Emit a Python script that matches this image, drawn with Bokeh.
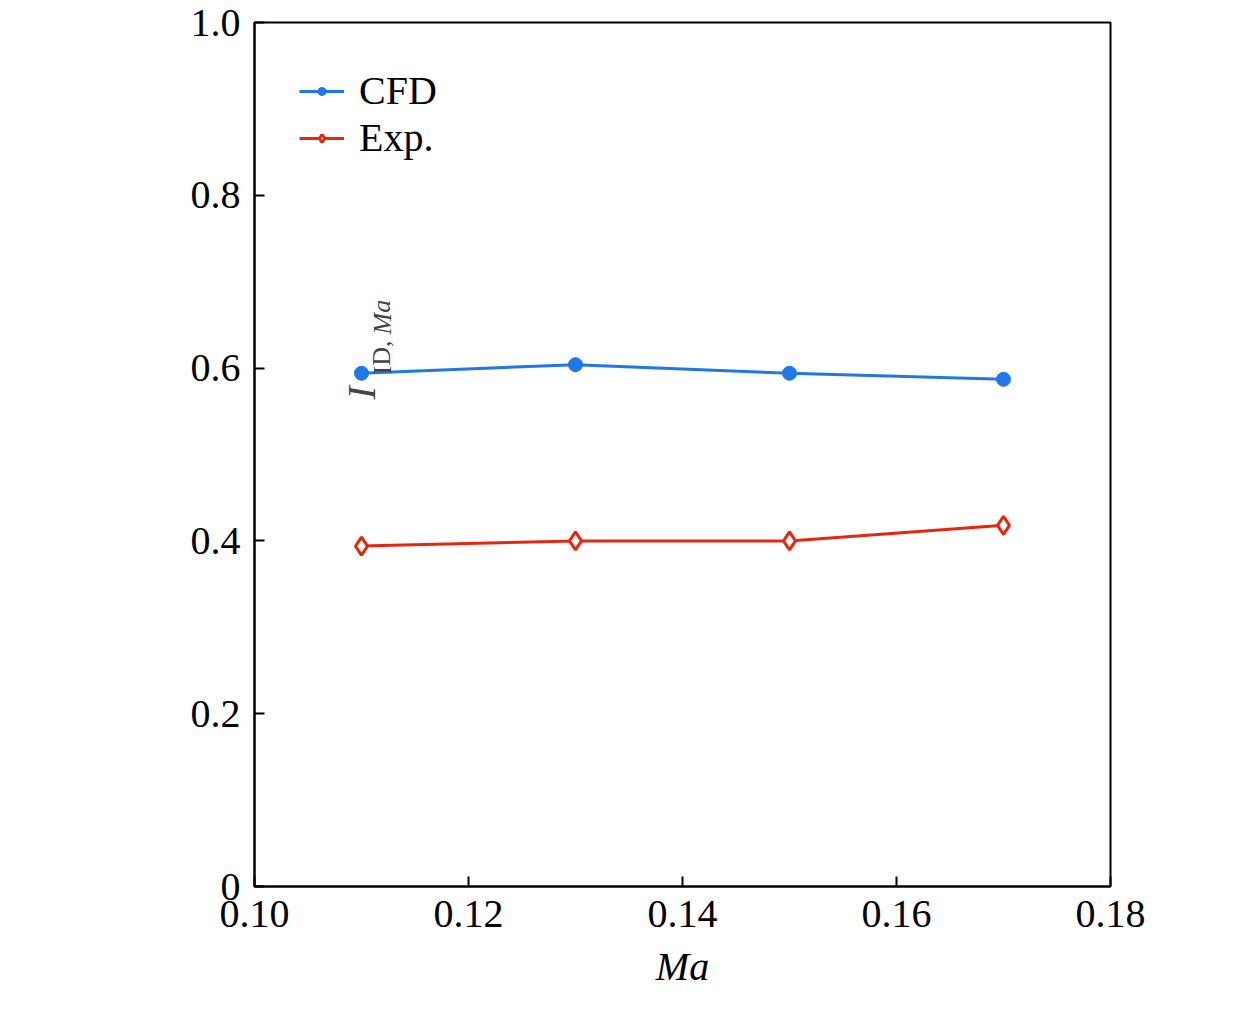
from bokeh.plotting import figure
from bokeh.models import Range1d, Label, Legend, LegendItem, FixedTicker
from bokeh.embed import file_html
from bokeh.resources import INLINE

ma = [0.11, 0.13, 0.15, 0.17]
cfd = [0.594, 0.604, 0.594, 0.587]
exp_ = [0.394, 0.400, 0.400, 0.418]
xticks = [0.10, 0.12, 0.14, 0.16, 0.18]
yticks = [0, 0.2, 0.4, 0.6, 0.8, 1.0]
ylabels = {0: "0", 0.2: "0.2", 0.4: "0.4", 0.6: "0.6", 0.8: "0.8", 1.0: "1.0"}

F = "Liberation Serif"
p = figure(width=1244, height=1004, output_backend="svg", toolbar_location=None,
           x_range=Range1d(0.10, 0.18), y_range=Range1d(0, 1.0),
           min_border_left=254, min_border_right=134, min_border_top=22, min_border_bottom=118)
p.grid.visible = False
p.outline_line_color = "black"
p.outline_line_width = 2
for ax in (p.xaxis[0], p.yaxis[0]):
    ax.major_tick_in = 10
    ax.major_tick_out = 0
    ax.minor_tick_line_color = None
    ax.axis_line_width = 2
    ax.major_tick_line_width = 2
    ax.major_label_text_font = F
    ax.major_label_text_font_size = "40px"
    ax.major_label_text_color = "black"
p.xaxis.major_label_standoff = 14
p.yaxis.major_label_standoff = 14
p.xaxis.ticker = FixedTicker(ticks=xticks)
p.yaxis.ticker = FixedTicker(ticks=yticks)
p.xaxis.major_label_overrides = {x: f"{x:.2f}" for x in xticks}
p.yaxis.major_label_overrides = ylabels
p.xaxis.axis_label = "Ma"
p.xaxis.axis_label_text_font = F
p.xaxis.axis_label_text_font_style = "italic"
p.xaxis.axis_label_text_font_size = "40px"
p.xaxis.axis_label_text_color = "black"
p.xaxis.axis_label_standoff = 14

blue = "#1f77e8"
red = "#e8260e"
l1 = p.line(ma, cfd, line_color=blue, line_width=3)
m1 = p.scatter(ma, cfd, marker="circle", size=14, color=blue)
l2 = p.line(ma, exp_, line_color=red, line_width=3)
m2 = p.scatter(ma, exp_, marker="diamond", size=18, line_color=red, fill_color="white", line_width=3)

leg = Legend(items=[LegendItem(label="CFD", renderers=[l1, m1]),
                    LegendItem(label="Exp.", renderers=[l2, m2])],
             location="top_left", label_text_font=F, label_text_font_size="40px",
             label_text_color="black",
             border_line_color=None, background_fill_alpha=0, glyph_width=45,
             margin=45, spacing=0, label_standoff=15)
p.add_layout(leg)

p.add_layout(Label(x=129, y=487, x_units="screen", y_units="screen", text="I", angle=1.5708,
                   text_font=F, text_font_style="italic", text_font_size="40px"))
p.add_layout(Label(x=142, y=512, x_units="screen", y_units="screen", text="ID,", angle=1.5708,
                   text_font=F, text_font_size="26px"))
p.add_layout(Label(x=142, y=552, x_units="screen", y_units="screen", text="Ma", angle=1.5708,
                   text_font=F, text_font_style="italic", text_font_size="26px"))

open("out.html", "w").write(file_html(p, INLINE))
